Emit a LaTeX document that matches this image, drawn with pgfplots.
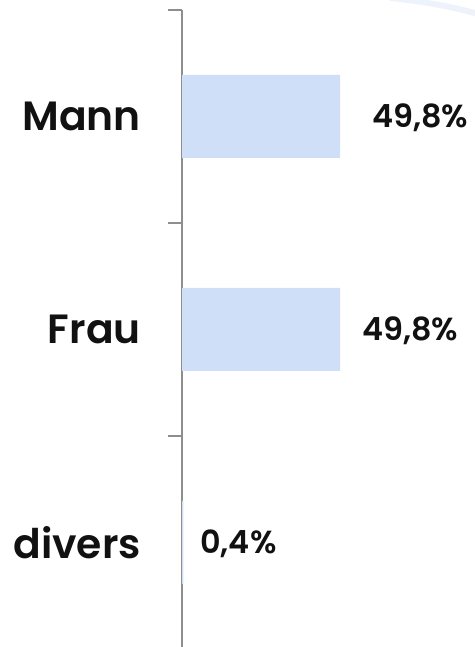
\documentclass[border=0pt]{standalone}
\usepackage{fontspec}
\setmainfont{Poppins}[BoldFont={Poppins SemiBold}]
\newfontface\catfont{Poppins SemiBold}
\usepackage{pgfplots}
\pgfplotsset{compat=1.18}
\definecolor{barblue}{HTML}{CFDFF7}
\definecolor{axisgray}{HTML}{8E8E8E}
\definecolor{swoosh}{HTML}{EEF2FA}
\definecolor{txt}{HTML}{111111}
\begin{document}
\begin{tikzpicture}
\draw[swoosh, line width=6bp] (390bp,649bp) .. controls (420bp,646bp) and (450bp,641bp) .. (478bp,633bp);
\begin{axis}[
  at={(182bp,-2bp)}, anchor=south west, scale only axis,
  width=285.6bp, height=639bp,
  xmin=0, xmax=90, ymin=-0.5, ymax=2.5,
  axis y line*=left, axis x line=none,
  xtick=\empty,
  xbar, bar width=83bp, bar shift=0pt,
  ytick={0,1,2}, yticklabels={divers,Frau,Mann},
  major tick length=0pt,
  minor ytick={-0.5,0.5,1.5,2.5}, minor tick length=14bp,
  tick align=outside,
  y axis line style={axisgray, line width=1.4bp},
  minor tick style={axisgray, line width=1.4bp},
  yticklabel style={font=\catfont\fontsize{41}{46}\selectfont, text=txt, anchor=east, inner sep=0pt, xshift=-41bp},
  clip=false,
]
\addplot[fill=barblue, draw=none] coordinates {(0.4,0) (49.8,1) (49.8,2)};
\node[anchor=base west, inner sep=0pt, text=txt, font=\bfseries\fontsize{32}{36}\selectfont, yshift=-11bp] at (axis cs:59.9,2) {49,8\%};
\node[anchor=base west, inner sep=0pt, text=txt, font=\bfseries\fontsize{32}{36}\selectfont, yshift=-11bp] at (axis cs:56.7,1) {49,8\%};
\node[anchor=base west, inner sep=0pt, text=txt, font=\bfseries\fontsize{32}{36}\selectfont, yshift=-11bp] at (axis cs:5.7,0) {0,4\%};
\end{axis}
\pgfresetboundingbox
\path[use as bounding box] (0bp,0bp) rectangle (475bp,647bp);
\end{tikzpicture}
\end{document}
